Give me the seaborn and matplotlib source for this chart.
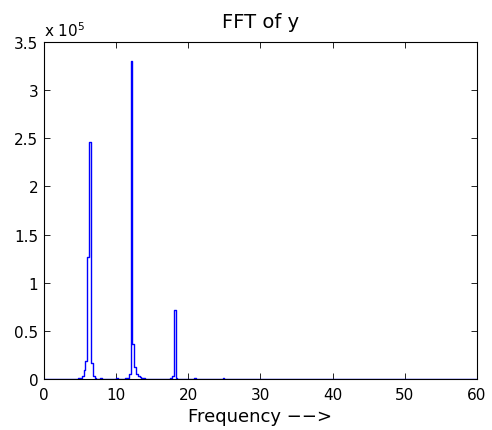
import numpy as np
import pandas as pd
import matplotlib
matplotlib.use("Agg")
import matplotlib.pyplot as plt
from matplotlib.ticker import FuncFormatter
import seaborn as sns

# Frequency grid (Hz)
df_step = 0.25
f_max = 60.0

# Non-negligible spectral bins: frequency (Hz) and |FFT| magnitude
peak_freqs = [4.75, 5.0, 5.25, 5.5, 5.75, 6.0, 6.25, 6.5, 6.75, 7.0,
              7.9, 10.0,
              11.25, 11.5, 11.75, 12.0, 12.25, 12.5, 12.75, 13.0, 13.25, 13.5, 13.75,
              17.5, 17.75, 18.0, 18.25,
              20.75, 24.75]
peak_mags = [800, 1500, 3500, 9000, 19000, 127000, 246000, 17000, 3500, 1200,
             1500, 1500,
             900, 1500, 5000, 330000, 36000, 12000, 5000, 3000, 2000, 1200, 700,
             800, 3500, 72000, 1200,
             1500, 1000]

x_ticks = [0, 10, 20, 30, 40, 50, 60]
y_ticks = [0, 0.5e5, 1e5, 1.5e5, 2e5, 2.5e5, 3e5, 3.5e5]

freq = np.round(np.arange(0, f_max + df_step / 2, df_step), 4)
mag = np.full(freq.shape, 300.0)
for f, m in zip(peak_freqs, peak_mags):
    idx = int(np.argmin(np.abs(freq - (np.floor(f / df_step) * df_step))))
    mag[idx] = m
data = pd.DataFrame({"freq": freq, "mag": mag})

sns.set_style("ticks")
plt.rcParams["font.family"] = ["DejaVu Sans"]
plt.rcParams["text.color"] = "black"
plt.rcParams["axes.labelcolor"] = "black"
plt.rcParams["xtick.color"] = "black"
plt.rcParams["ytick.color"] = "black"

fig = plt.figure(figsize=(4.92, 4.31), dpi=100)
ax = fig.add_axes([0.0894, 0.1183, 0.8801, 0.7819])

sns.lineplot(data=data, x="freq", y="mag", ax=ax, color=(0, 0, 1),
             linewidth=1.0, drawstyle="steps-post", estimator=None,
             sort=True)

ax.set_xlim(0, 60)
ax.set_ylim(0, 3.5e5)
ax.set_xticks(x_ticks)
ax.set_yticks(y_ticks)
ax.yaxis.set_major_formatter(FuncFormatter(lambda v, p: f"{v/1e5:g}"))
ax.tick_params(axis="both", direction="in", top=True, right=True, length=4,
               width=0.6, labelsize=11, colors="black")
ax.tick_params(axis="x", pad=6)
ax.tick_params(axis="y", pad=4)
for s in ax.spines.values():
    s.set_visible(True)
    s.set_linewidth(0.8)
    s.set_color("black")

ax.set_title("FFT of y", fontsize=14, pad=11, color="black")
ax.set_xlabel("Frequency \u2212\u2212>", fontsize=13, labelpad=3)
ax.set_ylabel("")
ax.text(0.0, 1.008, r"x 10$^5$", transform=ax.transAxes, fontsize=11,
        ha="left", va="bottom")

fig.savefig("out.png", dpi=100, facecolor="white")
